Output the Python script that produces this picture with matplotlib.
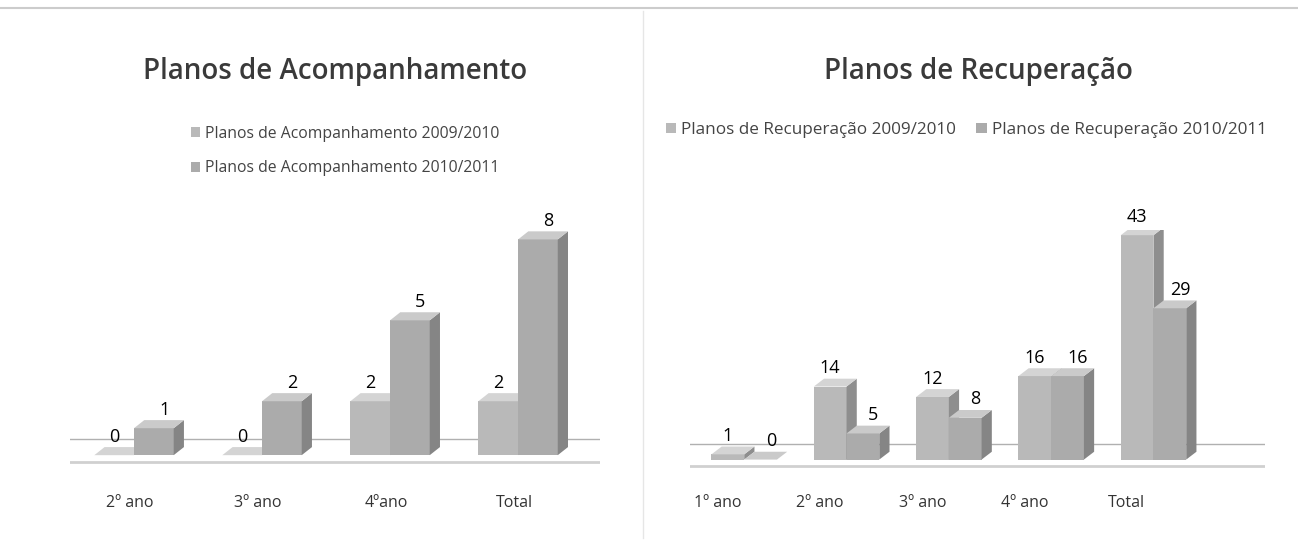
import numpy as np
import matplotlib.pyplot as plt
from matplotlib.patches import Polygon

plt.rcParams['font.family'] = ['Open Sans', 'DejaVu Sans']

# data
acomp_cats = ['2º ano', '3º ano', '4ºano', 'Total']
acomp_0910 = [0, 0, 2, 2]
acomp_1011 = [1, 2, 5, 8]
acomp_labels = ['Planos de Acompanhamento 2009/2010', 'Planos de Acompanhamento 2010/2011']

recup_cats = ['1º ano', '2º ano', '3º ano', '4º ano', 'Total']
recup_0910 = [1, 14, 12, 16, 43]
recup_1011 = [0, 5, 8, 16, 29]
recup_labels = ['Planos de Recuperação 2009/2010', 'Planos de Recuperação 2010/2011']

front = ['#b9b9b9', '#ababab']
side = ['#8e8e8e', '#858585']
top = ['#d4d4d4', '#cacaca']


def bars3d(ax, x0s, vals, w, dx, dy, k):
    for x0, h in zip(x0s, vals):
        ax.add_patch(Polygon([(x0, 0), (x0 + w, 0), (x0 + w, h), (x0, h)],
                             closed=True, fc=front[k], ec='none', zorder=3 + k))
        ax.add_patch(Polygon([(x0 + w, 0), (x0 + w + dx, dy), (x0 + w + dx, h + dy), (x0 + w, h)],
                             closed=True, fc=side[k], ec='none', zorder=3 + k))
        ax.add_patch(Polygon([(x0, h), (x0 + dx, h + dy), (x0 + w + dx, h + dy), (x0 + w, h)],
                             closed=True, fc=top[k], ec='none', zorder=3 + k))


def chart(ax, cats, s1, s2, w, off, dx, dy, lpad):
    x = np.arange(len(cats))
    x1 = x + off
    x2 = x1 + w
    # back floor line and floor
    ax.axhline(2 * dy, color='#b0b0b0', lw=1, zorder=1)
    ax.axhline(-dy * 0.8, color='#d0d0d0', lw=2, zorder=1)
    bars3d(ax, x1, s1, w, dx, dy, 0)
    bars3d(ax, x2, s2, w, dx, dy, 1)
    for xa, xb, a, b in zip(x1, x2, s1, s2):
        ax.text(xa + w / 2, a + dy + lpad, str(a), ha='center', va='bottom',
                fontsize=13, zorder=10)
        ax.text(xb + w / 2 + dx, b + dy + lpad, str(b), ha='center', va='bottom',
                fontsize=13, zorder=10)
    ax.set_xticks(x)
    ax.set_xticklabels(cats, fontsize=11.5, color='#333333')
    ax.tick_params(axis='x', length=0, pad=18)
    ax.set_yticks([])
    for s in ax.spines.values():
        s.set_visible(False)


fig = plt.figure(figsize=(12.98, 5.49), dpi=100)

ax1 = fig.add_axes([70 / 1298, 79 / 549, 530 / 1298, 240 / 549])
chart(ax1, acomp_cats, acomp_0910, acomp_1011, 0.31, -0.28, 0.08, 0.3, 0.05)
ax1.set_xlim(-0.47, 3.67)
ax1.set_ylim(-0.55, 8.35)

ax2 = fig.add_axes([690 / 1298, 79 / 549, 575 / 1298, 240 / 549])
chart(ax2, recup_cats, recup_0910, recup_1011, 0.32, -0.06, 0.1, 1.5, 0.3)
ax2.set_xlim(-0.27, 5.35)
ax2.set_ylim(-2, 44)

# titles
fig.text(335 / 1298, 1 - 72 / 549, 'Planos de Acompanhamento', ha='center', va='center',
         fontsize=20, fontweight='semibold', color='#3a3a3a')
fig.text(978 / 1298, 1 - 72 / 549, 'Planos de Recuperação', ha='center', va='center',
         fontsize=20, fontweight='semibold', color='#3a3a3a')

# legends
h = [plt.Rectangle((0, 0), 1, 1, fc=front[0]), plt.Rectangle((0, 0), 1, 1, fc=front[1])]
fig.legend(h, acomp_labels, loc='center', bbox_to_anchor=(345 / 1298, 1 - 151 / 549),
           ncol=1, frameon=False, fontsize=11.3, handlelength=0.6, handleheight=0.6,
           handletextpad=0.3, labelspacing=1.2, labelcolor='#444444')
fig.legend(h, recup_labels, loc='center', bbox_to_anchor=(966 / 1298, 1 - 130 / 549),
           ncol=2, frameon=False, fontsize=12.3, handlelength=0.6, handleheight=0.6,
           handletextpad=0.3, columnspacing=1.2, labelcolor='#444444')

# frame lines of the scanned page
fig.add_artist(plt.Line2D([0, 1], [1 - 8 / 549, 1 - 8 / 549], color='#cccccc', lw=1.5))
fig.add_artist(plt.Line2D([643 / 1298, 643 / 1298], [0.02, 0.98], color='#e6e6e6', lw=1))

fig.savefig('out.png', dpi=100)
